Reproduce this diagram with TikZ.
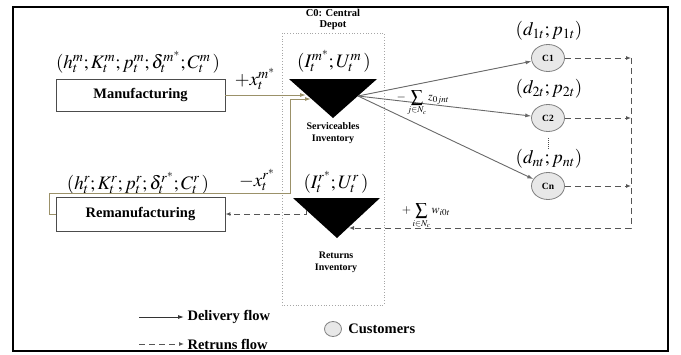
\documentclass[tikz,border=0pt]{standalone}
\usepackage{mathptmx}
\usepackage{fontspec}
\setmainfont{Liberation Serif}
\usetikzlibrary{arrows.meta,shapes.geometric}
\definecolor{prodcol}{RGB}{155,145,105}
\definecolor{delcol}{RGB}{105,105,105}
\definecolor{retcol}{RGB}{85,85,85}
\begin{document}
\begin{tikzpicture}[x=1pt,y=-1pt,
    box/.style={draw=black!70,line width=0.9pt,minimum width=169pt,minimum height=32pt,font=\bfseries\fontsize{14.5}{16}\selectfont},
    cust/.style={ellipse,draw=gray,fill=gray!18,line width=0.8pt,minimum width=33pt,minimum height=27pt,inner sep=0pt,font=\bfseries\fontsize{9.5}{10}\selectfont},
    lbl/.style={inner sep=1pt,font=\fontsize{19}{21}\selectfont},
    inv/.style={align=center,font=\bfseries\fontsize{10}{12}\selectfont},
    leg/.style={anchor=west,font=\bfseries\fontsize{14.5}{16}\selectfont},
    prod/.style={draw=prodcol,line width=1pt,-{Latex[length=6pt,width=4pt]}},
    deliv/.style={draw=delcol,line width=0.9pt,-{Latex[length=6pt,width=4pt]}},
    ret/.style={draw=retcol,line width=1pt,dash pattern=on 6pt off 4pt,-{Latex[length=5pt,width=4pt]}}]
  \useasboundingbox (0,0) rectangle (681,354);
  \draw[line width=1.5pt] (13,7) rectangle (668,351);
  % plants
  \node[box] (manu) at (140.5,95) {Manufacturing};
  \node[box,minimum height=34pt] (reman) at (140.5,214) {Remanufacturing};
  \node[lbl] at (138,62) {$(h_t^m;K_t^m;p_t^m;\delta_t^{m^*};C_t^m\,)$};
  \node[lbl] at (138,183) {$(h_t^r;K_t^r;p_t^r;\delta_t^{r^*};C_t^r\,)$};
  \node[lbl] at (255,79) {$+x_t^{m^*}$};
  \node[lbl] at (257,180) {$-x_t^{r^*}$};
  % depot
  \draw[gray!70,line width=0.8pt,dotted] (282,33) rectangle (384,305);
  \node[align=center,font=\bfseries\fontsize{10.5}{11}\selectfont] at (333,19) {C0: Central\\Depot};
  \coordinate (s1) at (289,79);
  \coordinate (s2) at (377,79);
  \coordinate (s3) at (333,118);
  \fill (s1) -- (s2) -- (s3) -- cycle;
  \node[lbl] at (334,61) {$(I_t^{m^*};U_t^m\,)$};
  \node[inv] at (333,133) {Serviceables\\Inventory};
  \coordinate (r1) at (293,198);
  \coordinate (r2) at (380,198);
  \coordinate (r3) at (337,238);
  \fill (r1) -- (r2) -- (r3) -- cycle;
  \node[lbl] at (336,182) {$(I_t^{r^*};U_t^r\,)$};
  \node[inv] at (336,262) {Returns\\Inventory};
  % customers
  \node[cust] (c1) at (548,58) {C1};
  \node[cust] (c2) at (548,118) {C2};
  \node[cust] (cn) at (548,186) {Cn};
  \node[lbl] at (549,31) {$(d_{1t};p_{1t})$};
  \node[lbl] at (549,89) {$(d_{2t};p_{2t})$};
  \node[lbl] at (549,159) {$(d_{nt};p_{nt})$};
  \draw[black!70,dash pattern=on 1pt off 1pt] (548,138) -- (548,150);
  % flows
  \coordinate (sin1) at (306,95);
  \coordinate (sin2) at (311,99);
  \coordinate (olv) at (290,193);
  \draw[prod] (manu.east) -- (sin1);
  \draw[prod] (reman.west) -- ++(-6,0) |- (olv) |- (sin2);
  \coordinate (sout) at (358,96);
  \draw[deliv] (sout) -- (c1);
  \draw[deliv] (sout) -- (c2);
  \draw[deliv] (sout) -- (cn);
  \node[font=\fontsize{12}{13}\selectfont] at (423,103) {$\displaystyle-\sum_{j\in N_c} z_{0jnt}$};
  \coordinate (rx) at (631,228);
  \coordinate (rin) at (349,228);
  \draw[ret] (c1.east) -- (c1.east -| rx);
  \draw[ret] (c2.east) -- (c2.east -| rx);
  \draw[ret] (cn.east) -- (cn.east -| rx);
  \draw[ret] (c1.east -| rx) -- (rx) -- (rin);
  \node[font=\fontsize{12}{13}\selectfont] at (426,216) {$\displaystyle+\sum_{i\in N_c} w_{i0t}$};
  \coordinate (rout) at (306,210);
  \draw[ret] (rout) |- (reman.east);
  % legend
  \node[leg] (ldel) at (184,317) {Delivery flow};
  \node[leg] (lret) at (184,344) {Retruns flow};
  \coordinate (ld) at (139,317);
  \coordinate (lr) at (139,344);
  \draw[deliv,draw=black!80] (ld) -- (ldel.west);
  \draw[ret] (lr) -- (lret.west);
  \node[ellipse,draw=gray,fill=gray!18,line width=0.8pt,minimum width=17pt,minimum height=15pt] (lc) at (333,329) {};
  \node[leg] at (lc.east) {\hspace{3pt}Customers};
\end{tikzpicture}
\end{document}
